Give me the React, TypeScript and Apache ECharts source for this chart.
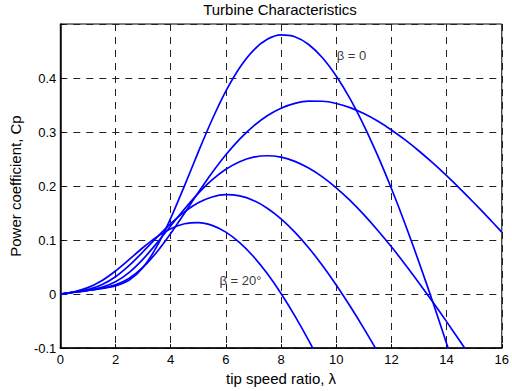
import React, { useEffect, useRef } from "react";
import * as echarts from "echarts";

// Tip speed ratio samples (x values)
const lambda = [
  0, 0.5, 1, 1.5, 2, 2.5, 3, 3.5, 4, 4.5, 5, 5.5, 6, 6.5, 7, 7.5, 8, 8.5, 9, 9.5,
  10, 10.5, 11, 11.5, 12, 12.5, 13, 13.5, 14, 14.5, 15, 15.5, 16,
];

// Power coefficient Cp for each pitch angle
const cpBeta0 = [
  0, 0.0034, 0.0068, 0.0103, 0.0151, 0.0261, 0.0495, 0.0882, 0.1402, 0.2003,
  0.2629, 0.3227, 0.3757, 0.4191, 0.4513, 0.4716, 0.4798, 0.4764, 0.462, 0.4375,
  0.4037, 0.3618, 0.3125, 0.2567, 0.1954, 0.1293, 0.059, -0.0147, -0.0913, -0.1703,
];
const cpBeta5 = [
  0, 0.0034, 0.0068, 0.0106, 0.017, 0.0293, 0.0497, 0.078, 0.1123, 0.1498,
  0.188, 0.2245, 0.2578, 0.2869, 0.3111, 0.3301, 0.344, 0.353, 0.3572, 0.357,
  0.3529, 0.3451, 0.3342, 0.3203, 0.3039, 0.2854, 0.2649, 0.2427, 0.2191, 0.1944,
  0.1686, 0.142, 0.1147,
];
const cpBeta10 = [
  0, 0.0034, 0.007, 0.0125, 0.0229, 0.0403, 0.0648, 0.0943, 0.1261, 0.1575,
  0.1864, 0.2113, 0.231, 0.2451, 0.2534, 0.2561, 0.2534, 0.2457, 0.2333, 0.2169,
  0.1967, 0.1733, 0.147, 0.1183, 0.0875, 0.0549, 0.0207, -0.0146, -0.051, -0.0882,
  -0.1259,
];
const cpBeta15 = [
  0, 0.0035, 0.0083, 0.0171, 0.0321, 0.0531, 0.0784, 0.105, 0.1304, 0.1522,
  0.1689, 0.1797, 0.184, 0.1818, 0.1734, 0.159, 0.1393, 0.1147, 0.0857, 0.053,
  0.0169, -0.0221, -0.0634, -0.1068,
];
const cpBeta20 = [
  0.0001, 0.0044, 0.0119, 0.0246, 0.0427, 0.0642, 0.0862, 0.1059, 0.1211, 0.1302,
  0.1323, 0.1271, 0.1147, 0.0953, 0.0696, 0.038, 0.0011, -0.0403, -0.0856, -0.1344,
];

const seriesNames = ["β = 0", "β = 5°", "β = 10°", "β = 15°", "β = 20°"];
const seriesValues = [cpBeta0, cpBeta5, cpBeta10, cpBeta15, cpBeta20];

// Annotations: text and anchor in data coordinates
const annotationTexts = ["β = 0", "β = 20°"];
const annotationX = [10, 5.75];
const annotationY = [0.442, 0.026];

const titleText = "Turbine Characteristics";
const xName = "tip speed ratio, λ";
const yName = "Power coefficient, Cp";

const FONT = "Liberation Sans, Arial, Helvetica, sans-serif";

export default function App() {
  const ref = useRef<HTMLDivElement>(null);

  useEffect(() => {
    if (!ref.current) return;
    const chart = echarts.init(ref.current, undefined, { renderer: "svg" });

    const lineSeries = seriesValues.map((vals, si) => ({
      name: seriesNames[si],
      type: "line",
      data: vals.map((v, i) => [lambda[i], v]),
      showSymbol: false,
      symbol: "none",
      smooth: 0.3,
      clip: true,
      lineStyle: { color: "#0000ff", width: 1.7 },
      z: 3,
    }));

    const labelSeries = {
      type: "scatter",
      symbol: "circle",
      symbolSize: 1,
      silent: true,
      itemStyle: { color: "rgba(0,0,0,0)" },
      data: annotationTexts.map((t, i) => ({
        name: t,
        value: [annotationX[i], annotationY[i]],
      })),
      label: {
        show: true,
        position: "right",
        distance: 0,
        formatter: (p: any) => p.name,
        color: "#000",
        fontSize: 13,
        fontFamily: FONT,
      },
      labelLayout: { hideOverlap: false },
      z: 4,
    };

    const splitLine = {
      show: true,
      lineStyle: { color: "#222", width: 1, type: [7, 6] },
    };

    chart.setOption({
      animation: false,
      backgroundColor: "#fff",
      textStyle: { fontFamily: FONT },
      graphic: [
        {
          type: "text",
          x: 280,
          y: 9,
          style: {
            text: titleText,
            fill: "#000",
            font: `15px ${FONT}`,
            fontSize: 15,
            fontFamily: FONT,
            align: "center",
            textAlign: "center",
            verticalAlign: "middle",
            textVerticalAlign: "middle",
          },
        },
      ],
      grid: {
        left: 59,
        top: 24,
        width: 447,
        height: 326,
        show: true,
        borderColor: "#000",
        borderWidth: 1,
        backgroundColor: "#fff",
      },
      xAxis: {
        type: "value",
        min: 0,
        max: 16,
        interval: 2,
        name: xName,
        nameLocation: "middle",
        nameGap: 20,
        nameTextStyle: { color: "#000", fontSize: 15, fontFamily: FONT },
        axisLine: { show: true, onZero: false, lineStyle: { color: "#000", width: 1.5 } },
        axisTick: { show: true, inside: true, length: 4, lineStyle: { color: "#000" } },
        axisLabel: { color: "#000", fontSize: 13, margin: 5, fontFamily: FONT },
        splitLine,
      },
      yAxis: {
        type: "value",
        min: -0.1,
        max: 0.5,
        interval: 0.1,
        name: yName,
        nameLocation: "middle",
        nameGap: 36,
        nameRotate: 90,
        nameTextStyle: { color: "#000", fontSize: 15, fontFamily: FONT },
        axisLine: { show: true, onZero: false, lineStyle: { color: "#000", width: 1.5 } },
        axisTick: { show: true, inside: true, length: 4, lineStyle: { color: "#000" } },
        axisLabel: {
          color: "#000",
          fontSize: 13,
          margin: 4,
          fontFamily: FONT,
          formatter: (v: number) => {
            if (v > 0.45) return "";
            const r = Math.round(v * 10) / 10;
            return r === 0 ? "0" : String(r);
          },
        },
        splitLine,
      },
      series: [...lineSeries, labelSeries],
    });

    return () => {
      chart.dispose();
    };
  }, []);

  return (
    <div
      ref={ref}
      style={{
        position: "fixed",
        left: 0,
        top: 0,
        width: 512,
        height: 391,
        background: "#fff",
      }}
    />
  );
}
